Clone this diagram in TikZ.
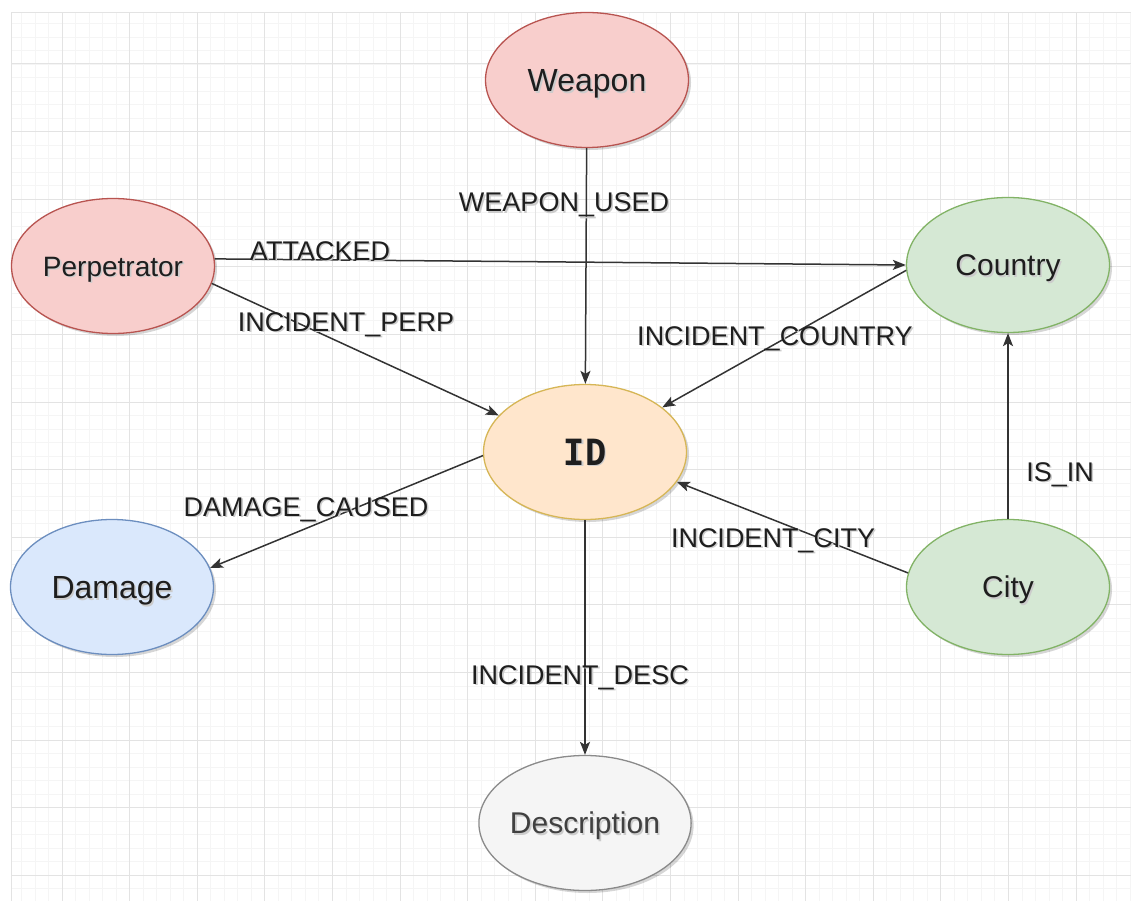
\documentclass[tikz,border=0pt]{standalone}
\usepackage{fontspec}
\setmainfont{Liberation Sans}
\newfontfamily\idfont{Liberation Mono}
\usetikzlibrary{shapes.geometric,arrows.meta,shadows}

\definecolor{redfill}{HTML}{F8CECC}
\definecolor{redline}{HTML}{B85450}
\definecolor{greenfill}{HTML}{D5E8D4}
\definecolor{greenline}{HTML}{82B366}
\definecolor{bluefill}{HTML}{DAE8FC}
\definecolor{blueline}{HTML}{6C8EBF}
\definecolor{orangefill}{HTML}{FFE6CC}
\definecolor{orangeline}{HTML}{D6B656}
\definecolor{grayfill}{HTML}{F5F5F5}
\definecolor{grayline}{HTML}{8A8A8A}
\definecolor{edgecol}{HTML}{333333}
\definecolor{textcol}{HTML}{1E1E1E}
\definecolor{minorgridcol}{HTML}{F5F5F5}
\definecolor{majorgridcol}{HTML}{E3E3E3}

% soft text shadow, as the editor renders it
\newcommand{\softshadow}[1]{\makebox[0pt][l]{\hspace{1.6pt}\raisebox{-1.6pt}{\textcolor{black!20}{#1}}}#1}

\tikzset{
  minorgrid/.style={draw=minorgridcol, line width=0.8pt},
  majorgrid/.style={draw=majorgridcol, line width=1pt},
  entity/.style={ellipse, draw, line width=1.3pt, minimum width=203, minimum height=135,
    inner sep=0pt, text=textcol,
    drop shadow={shadow xshift=2.5pt, shadow yshift=-2.5pt, opacity=0.16, fill=black}},
  redent/.style={entity, fill=redfill, draw=redline},
  greenent/.style={entity, fill=greenfill, draw=greenline},
  blueent/.style={entity, fill=bluefill, draw=blueline},
  orangeent/.style={entity, fill=orangefill, draw=orangeline},
  grayent/.style={entity, fill=grayfill, draw=grayline, text=black!75},
  fs32/.style={font=\fontsize{32}{32}\selectfont, text height=22.9pt, text depth=0pt},
  fs30/.style={font=\fontsize{30}{30}\selectfont, text height=21.5pt, text depth=0pt},
  fs28/.style={font=\fontsize{28}{28}\selectfont, text height=20pt, text depth=0pt},
  rel/.style={draw=edgecol, line width=1.5pt, -{Stealth[length=13pt, width=10pt, inset=3pt]}},
  lbl/.style={font=\fontsize{27}{27}\selectfont, text=textcol, inner sep=0pt, anchor=base},
}

\begin{document}
\begin{tikzpicture}[x=1pt, y=-1pt]
\useasboundingbox (0,0) rectangle (1131,901);
\fill[white] (0,0) rectangle (1131,901);

% background grid
\foreach \k in {-3,...,79}
  \draw[minorgrid] ({62+13.52*\k},13) -- ({62+13.52*\k},901);
\foreach \k in {-3,...,61}
  \draw[minorgrid] (11,{64+13.52*\k}) -- (1131,{64+13.52*\k});
\foreach \k in {0,...,15}
  \draw[majorgrid] ({62+67.6*\k},13) -- ({62+67.6*\k},901);
\foreach \k in {0,...,12}
  \draw[majorgrid] (11,{64+67.6*\k}) -- (1131,{64+67.6*\k});
\draw[majorgrid] (11,901) -- (11,13) -- (1131,13);

% entities
\node[redent, fs32] (weapon) at (587,80) {\softshadow{Weapon}};
\node[redent, fs28] (perp) at (113,266) {\softshadow{Perpetrator}};
\node[greenent, fs30] (country) at (1008,265) {\softshadow{Country}};
\node[orangeent, font=\idfont\bfseries\fontsize{40}{40}\selectfont, text height=26.4pt, text depth=0pt] (id) at (585,452) {\scalebox{0.88}[1]{\softshadow{ID}}};
\node[blueent, fs32] (damage) at (112,587) {\softshadow{Damage}};
\node[greenent, fs30] (city) at (1008,587) {\softshadow{City}};
\node[grayent, fs30] (desc) at (585,823) {\softshadow{Description}};

% relationships
\draw[rel] (weapon) -- (id);
\draw[rel] (perp.4) -- (country.west);
\draw[rel] (perp.-10) -- (id.157);
\draw[rel] (country.183) -- (id.30);
\draw[rel] (city) -- (country);
\draw[rel] (city.172) -- (id.-18);
\draw[rel] (id.182) -- (damage.11);
\draw[rel] (id) -- (desc);

% relationship labels
\node[lbl] (lweapon) at (564,212) {\softshadow{WEAPON\_USED}};
\node[lbl] (lattack) at (320,260) {\softshadow{ATTACKED}};
\node[lbl] (lperp) at (346,331) {\softshadow{INCIDENT\_PERP}};
\node[lbl] (lcountry) at (775,345) {\softshadow{INCIDENT\_COUNTRY}};
\node[lbl] (lisin) at (1060,481) {\softshadow{IS\_IN}};
\node[lbl] (lcity) at (773,547) {\softshadow{INCIDENT\_CITY}};
\node[lbl] (ldamage) at (306,516) {\softshadow{DAMAGE\_CAUSED}};
\node[lbl] (ldesc) at (580,684) {\softshadow{INCIDENT\_DESC}};
\end{tikzpicture}
\end{document}
